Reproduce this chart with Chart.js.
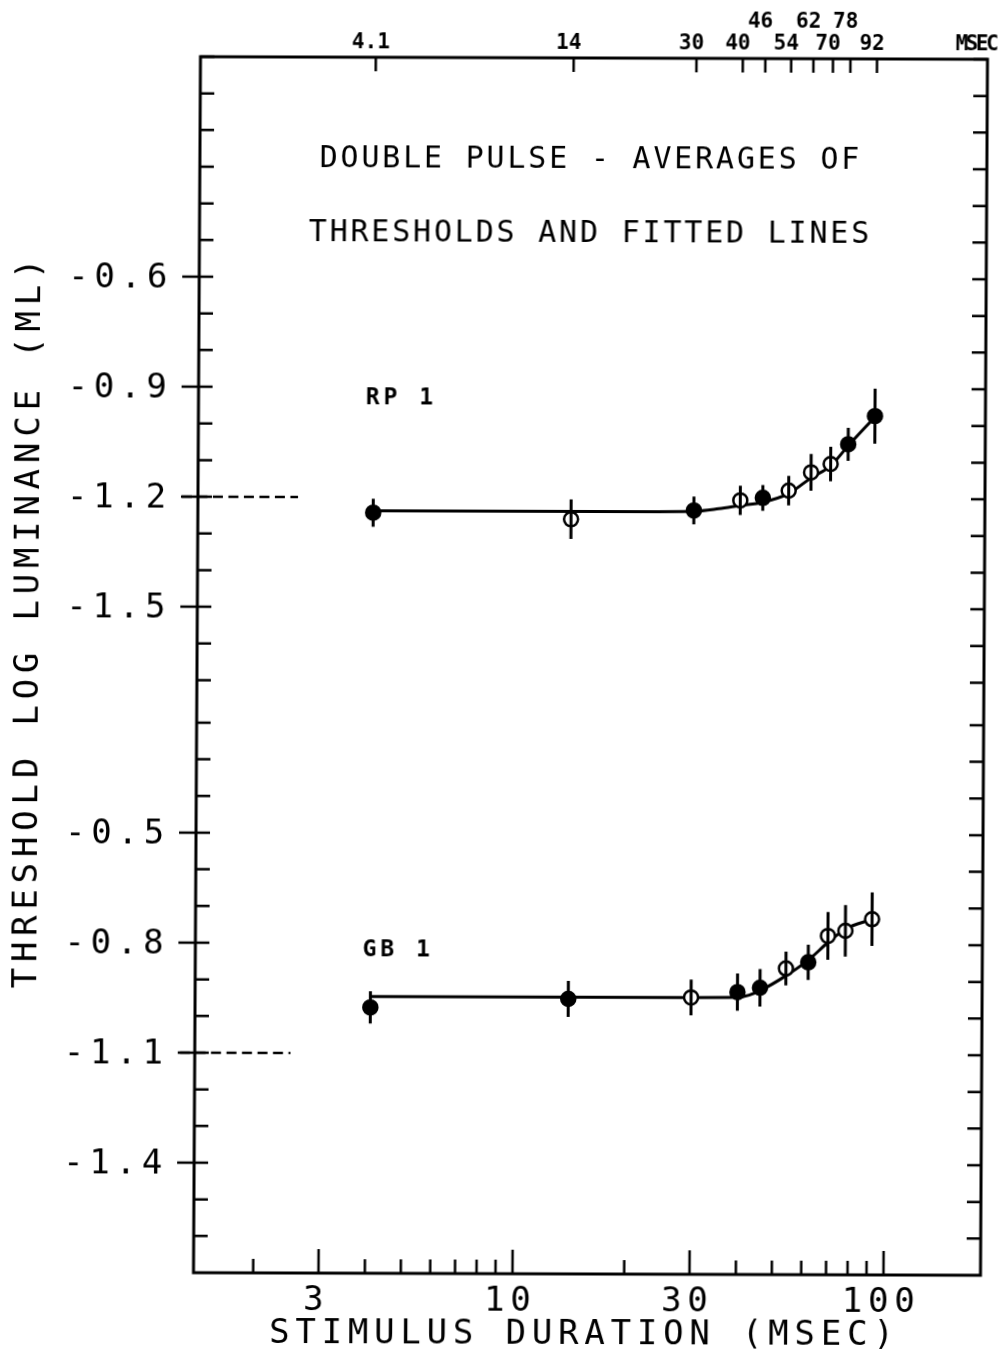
<!DOCTYPE html>
<html>
<head>
<meta charset="utf-8">
<script src="https://cdn.jsdelivr.net/npm/chart.js"></script>
<style>
  html, body { margin: 0; padding: 0; background: #fff; }
  /* the scanned figure is slightly sheared */
  #chart { display: block; transform: skew(-0.33deg, 0.19deg); transform-origin: 590px 665px; }
</style>
</head>
<body>
<canvas id="chart" width="1004" height="1369"></canvas>
<script>
"use strict";

// stimulus durations (msec), same for both observers
const durations = [4.1, 14, 30, 40, 46, 54, 62, 70, 78, 92];

// RP 1: mean thresholds, half length of error bars, filled or open marker
const rpMeans = [-1.242, -1.258, -1.233, -1.205, -1.198, -1.178, -1.128, -1.105, -1.051, -0.974];
const rpErr = [0.038, 0.054, 0.038, 0.04, 0.035, 0.04, 0.05, 0.047, 0.045, 0.075];
const rpFilled = [true, false, true, false, true, false, false, false, true, true];
// fitted line
const rpFitX = [4.1, 14, 30, 35, 40, 46, 54, 62, 70, 78, 92];
const rpFitY = [-1.237, -1.237, -1.235, -1.228, -1.219, -1.21, -1.186, -1.143, -1.11, -1.055, -0.976];

// GB 1
const gbMeans = [-0.975, -0.95, -0.945, -0.93, -0.918, -0.865, -0.848, -0.776, -0.762, -0.73];
const gbErr = [0.044, 0.049, 0.049, 0.051, 0.051, 0.046, 0.048, 0.065, 0.07, 0.073];
const gbFilled = [true, true, false, true, true, false, true, false, false, false];
const gbFitX = [4.1, 14, 30, 40, 43, 46, 54, 62, 70, 78, 92];
const gbFitY = [-0.945, -0.945, -0.945, -0.944, -0.938, -0.926, -0.885, -0.842, -0.794, -0.757, -0.73];

// dashed reference marks at the left edge
const rpRefX = [1.25, 2.57];
const rpRefY = [-1.2, -1.2];
const gbRefX = [1.26, 2.5];
const gbRefY = [-1.1, -1.1];

// axes
const bottomTicks = [2, 3, 4, 5, 6, 7, 8, 9, 10, 20, 30, 40, 50, 60, 70, 80, 90, 100];
const bottomLabels = [3, 10, 30, 100];
const topRaised = [46, 62, 78];
const rpTickLabels = [-0.6, -0.9, -1.2, -1.5];
const gbTickLabels = [-0.5, -0.8, -1.1, -1.4];

const X_MIN = 1.381, X_MAX = 182.6;
const RP_MAX = 0, RP_MIN = -3.316;
const GB_MIN = -1.7, GB_MAX = GB_MIN + (RP_MAX - RP_MIN);
const SHIFT = GB_MIN - RP_MIN; // lower panel value -> left axis value

const MONO = "'DejaVu Sans Mono', monospace";
const BIG = 34, BIG_SPACE = 5.8;

// left axis ticks every 0.1: upper panel from the top, lower panel from the bottom
const yTicks = [];
for (let k = 0; k <= 17; k++) yTicks.push(-k / 10);
for (let k = 16; k >= 2; k--) yTicks.push(Math.round((-k / 10 - SHIFT) * 1000) / 1000);

function near(a, b) { return Math.abs(a - b) < 1e-6; }

function yLabel(v) {
  const up = rpTickLabels.find((l) => near(l, v));
  if (up !== undefined) return up.toFixed(1);
  const lo = gbTickLabels.find((l) => near(Math.round((l - SHIFT) * 1000) / 1000, v));
  if (lo !== undefined) return lo.toFixed(1);
  return "";
}

// letter spacing for the labels one axis draws
function spaced(px) {
  return function (scale) {
    if (scale._spaced) return;
    const draw = scale.drawLabels;
    scale.drawLabels = function (area) {
      this.ctx.save();
      this.ctx.letterSpacing = px + "px";
      draw.call(this, area);
      this.ctx.restore();
    };
    scale._spaced = true;
  };
}

function errorBars(means, errs) {
  const pts = [];
  durations.forEach((d, i) => {
    pts.push({ x: d, y: means[i] - errs[i] }, { x: d, y: means[i] + errs[i] }, { x: d, y: null });
  });
  return pts;
}

function pairs(xs, ys) {
  return xs.map((x, i) => ({ x: x, y: ys[i] }));
}

function text(ctx, str, x, y, font, spacing, align) {
  ctx.font = font;
  ctx.letterSpacing = spacing + "px";
  ctx.textAlign = align || "center";
  ctx.textBaseline = "middle";
  ctx.fillText(str, align === "left" ? x : x + spacing / 2, y);
}

const curveLabels = [
  { text: "RP 1", x: 3.9, y: -0.929, axis: "y" },
  { text: "GB 1", x: 3.9, y: -0.818, axis: "y2" },
];

const framePlugin = {
  id: "frame",
  afterDraw(chart) {
    const { ctx, chartArea: a, scales } = chart;
    ctx.save();
    ctx.strokeStyle = "#000";
    ctx.fillStyle = "#000";
    ctx.lineWidth = 3;
    ctx.strokeRect(a.left, a.top, a.right - a.left, a.bottom - a.top);

    ctx.lineWidth = 2.5;
    ctx.beginPath();
    scales.y.ticks.forEach((t) => {
      const py = scales.y.getPixelForValue(t.value);
      ctx.moveTo(a.left - (t.label !== "" ? 17 : 0), py);
      ctx.lineTo(a.left + 14, py);
      ctx.moveTo(a.right, py);
      ctx.lineTo(a.right - 14, py);
    });
    scales.x2.ticks.forEach((t) => {
      const px = scales.x2.getPixelForValue(t.value);
      ctx.moveTo(px, a.top);
      ctx.lineTo(px, a.top + 14);
    });
    scales.x.ticks.forEach((t) => {
      const px = scales.x.getPixelForValue(t.value);
      ctx.moveTo(px, a.bottom);
      ctx.lineTo(px, a.bottom - (t.label !== "" ? 24 : 14));
    });
    ctx.stroke();

    const cx = (a.left + a.right) / 2;
    text(ctx, "DOUBLE PULSE - AVERAGES OF", cx - 4, 160, "30px " + MONO, 2.8);
    text(ctx, "THRESHOLDS AND FITTED LINES", cx - 4, 234, "30px " + MONO, 2.8);

    curveLabels.forEach((l) => {
      text(ctx, l.text, scales.x.getPixelForValue(l.x), scales[l.axis].getPixelForValue(l.y),
        "bold 23px " + MONO, 4, "left");
    });

    text(ctx, "MSEC", a.right - 10.5, 44, "bold 21px " + MONO, -2.5);
    text(ctx, "STIMULUS DURATION (MSEC)", 585.3, 1335, BIG + "px " + MONO, BIG_SPACE);

    ctx.translate(29.3, 625.4);
    ctx.rotate(-Math.PI / 2);
    text(ctx, "THRESHOLD LOG LUMINANCE (ML)", 0, 0, BIG + "px " + MONO, BIG_SPACE);
    ctx.restore();
  },
};

Chart.defaults.font.family = MONO;
Chart.defaults.color = "#000";

const noGrid = { display: false, drawTicks: false };

const config = {
  type: "line",
  data: {
    datasets: [
      {
        data: errorBars(rpMeans, rpErr),
        xAxisID: "x", yAxisID: "y",
        borderColor: "#000", borderWidth: 3, pointRadius: 0, spanGaps: false,
      },
      {
        data: errorBars(gbMeans, gbErr),
        xAxisID: "x", yAxisID: "y2",
        borderColor: "#000", borderWidth: 3, pointRadius: 0, spanGaps: false,
      },
      {
        label: "RP 1",
        data: pairs(durations, rpMeans),
        xAxisID: "x", yAxisID: "y",
        showLine: false, pointRadius: 7, pointBorderWidth: 2.5, pointBorderColor: "#000",
        pointBackgroundColor: rpFilled.map((f) => (f ? "#000" : "#fff")),
      },
      {
        label: "GB 1",
        data: pairs(durations, gbMeans),
        xAxisID: "x", yAxisID: "y2",
        showLine: false, pointRadius: 7, pointBorderWidth: 2.5, pointBorderColor: "#000",
        pointBackgroundColor: gbFilled.map((f) => (f ? "#000" : "#fff")),
      },
      {
        data: pairs(rpFitX, rpFitY),
        xAxisID: "x", yAxisID: "y",
        borderColor: "#000", borderWidth: 3, pointRadius: 0, cubicInterpolationMode: "monotone",
      },
      {
        data: pairs(gbFitX, gbFitY),
        xAxisID: "x", yAxisID: "y2",
        borderColor: "#000", borderWidth: 3, pointRadius: 0, cubicInterpolationMode: "monotone",
      },
      {
        data: pairs(rpRefX, rpRefY),
        xAxisID: "x", yAxisID: "y",
        borderColor: "#000", borderWidth: 2.5, borderDash: [10, 5.5], pointRadius: 0, clip: false,
      },
      {
        data: pairs(gbRefX, gbRefY),
        xAxisID: "x", yAxisID: "y2",
        borderColor: "#000", borderWidth: 2.5, borderDash: [10, 5.5], pointRadius: 0, clip: false,
      },
    ],
  },
  options: {
    responsive: false,
    animation: false,
    events: [],
    layout: { padding: 0 },
    plugins: { legend: { display: false }, tooltip: { enabled: false }, title: { display: false } },
    scales: {
      x: {
        type: "logarithmic", position: "bottom", min: X_MIN, max: X_MAX, bounds: "data",
        grid: noGrid, border: { display: false },
        afterBuildTicks: (s) => { s.ticks = bottomTicks.map((v) => ({ value: v })); },
        afterFit: (s) => { s.height = 95; },
        afterUpdate: spaced(BIG_SPACE),
        ticks: {
          autoSkip: false, maxRotation: 0, padding: 8, labelOffset: -2,
          font: { size: BIG, lineHeight: 1.2 },
          callback: (v) => (bottomLabels.includes(v) ? String(v) : ""),
        },
      },
      x2: {
        type: "logarithmic", position: "top", min: X_MIN, max: X_MAX, bounds: "data",
        grid: noGrid, border: { display: false },
        afterBuildTicks: (s) => { s.ticks = durations.map((v) => ({ value: v })); },
        afterFit: (s) => { s.height = 58; },
        ticks: {
          autoSkip: false, maxRotation: 0, padding: 3, labelOffset: -5,
          font: { size: 21, weight: "bold", lineHeight: 1.05 },
          callback: (v) => (topRaised.includes(v) ? [String(v), ""] : String(v)),
        },
      },
      y: {
        type: "linear", position: "left", min: RP_MIN, max: RP_MAX, bounds: "data",
        grid: noGrid, border: { display: false },
        afterBuildTicks: (s) => { s.ticks = yTicks.map((v) => ({ value: v })); },
        afterFit: (s) => { s.width = 197; },
        afterUpdate: spaced(BIG_SPACE),
        ticks: { autoSkip: false, padding: 26, labelOffset: 2.3, font: { size: BIG }, callback: yLabel },
      },
      y2: {
        type: "linear", position: "right", min: GB_MIN, max: GB_MAX, bounds: "data",
        grid: noGrid, border: { display: false },
        afterFit: (s) => { s.width = 20; },
        ticks: { display: false },
      },
    },
  },
  plugins: [framePlugin],
};

const myChart = new Chart(document.getElementById("chart"), config);
</script>
</body>
</html>
